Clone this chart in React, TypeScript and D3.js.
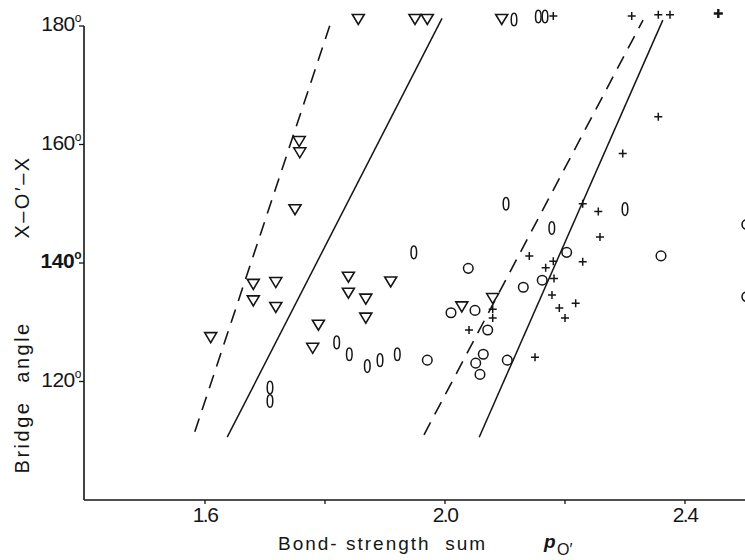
import React from 'react';
import * as d3 from 'd3';

// ---- data ----
const xTicks = [1.6, 1.8, 2.0, 2.2, 2.4];
const xTickLabels = ['1.6', '', '2.0', '', '2.4'];
const yTicks = [180, 160, 140, 120];
const yTickLabels = ['180', '160', '140', '120'];

const triangles: [number, number][] = [
  [1.8555, 181.1], [1.95, 181.1], [1.9705, 181.1], [2.0945, 181.1],
  [1.757, 160.5], [1.758, 158.6], [1.75, 149.0],
  [1.6805, 136.4], [1.718, 136.7], [1.6805, 133.6], [1.718, 132.5],
  [1.6095, 127.4], [1.839, 137.6], [1.839, 134.9], [1.868, 133.9],
  [1.868, 130.7], [1.9095, 136.8], [1.789, 129.5], [1.7795, 125.6],
  [2.028, 132.6], [2.0795, 134.0],
];

const ellipses: [number, number][] = [
  [2.115, 181.1], [2.1555, 181.6], [2.1667, 181.6],
  [2.1017, 150.0], [2.3, 149.1], [2.178, 145.9], [1.948, 141.8],
  [1.8195, 126.6], [1.8405, 124.6], [1.8705, 122.6], [1.8917, 123.6],
  [1.9205, 124.6], [1.7083, 119.0], [1.7083, 116.7],
];

const circles: [number, number][] = [
  [2.2028, 141.8], [2.36, 141.2], [2.0388, 139.1], [2.162, 137.1],
  [2.1305, 135.9], [2.01, 131.6], [2.05, 132.0], [2.0712, 128.7],
  [2.0638, 124.6], [2.0512, 123.1], [2.0583, 121.2], [1.9705, 123.6],
  [2.1038, 123.6], [2.503, 146.5], [2.503, 134.3],
];

const pluses: [number, number][] = [
  [2.1805, 181.7], [2.3112, 181.7], [2.3555, 181.9], [2.375, 181.9],
  [2.3555, 164.7], [2.2962, 158.5], [2.2295, 150.0], [2.2555, 148.7],
  [2.2583, 144.4], [2.1405, 141.2], [2.1678, 139.2], [2.1805, 140.3],
  [2.2295, 140.2], [2.1817, 137.4], [2.1783, 134.6], [2.2178, 133.2],
  [2.1905, 132.4], [2.2, 130.7], [2.0795, 132.2], [2.0795, 130.7],
  [2.04, 128.7], [2.15, 124.1],
];
const plusesBold: [number, number][] = [[2.4555, 182.1]];

const dashedLineA: [number, number][] = [[1.583, 111.5], [1.812, 181.3]];
const solidLineA: [number, number][] = [[1.637, 110.6], [1.995, 181.3]];
const dashedLineB: [number, number][] = [[1.965, 111.0], [2.33, 181.0]];
const solidLineB: [number, number][] = [[2.057, 110.6], [2.363, 181.0]];

const yTitleWords = ['Bridge', 'angle', 'X–O′–X'];

const FONT = "'Liberation Sans', Arial, sans-serif";
const INK = '#151515';

export default function App() {
  const W = 745, H = 560;
  const x = d3.scaleLinear().domain([1.4, 2.5]).range([85, 745]);
  const y = d3.scaleLinear().domain([100, 180]).range([500, 26]);
  const axisX = 84;
  const axisY = y(100);
  const line = d3.line<[number, number]>().x(d => x(d[0])).y(d => y(d[1]));

  const tri = (cx: number, cy: number) =>
    `M${cx - 6},${cy - 5}L${cx + 6},${cy - 5}L${cx},${cy + 5}Z`;

  // centers (in px along the vertical) of the rotated title words
  const yTitleCenters = [437, 352, 197];

  return (
    <svg width={W} height={H} style={{ position: 'absolute', left: 0, top: 0, background: '#fff' }}
      fontFamily={FONT}>
      <rect x={0} y={0} width={W} height={H} fill="#fff" />
      {/* axes */}
      <line x1={axisX} y1={y(180)} x2={axisX} y2={axisY} stroke={INK} strokeWidth={1.6} />
      <line x1={axisX} y1={axisY} x2={W} y2={axisY} stroke={INK} strokeWidth={1.6} />
      {yTicks.map((t, i) => (
        <g key={'yt' + i}>
          <line x1={axisX - 5} x2={axisX} y1={y(t)} y2={y(t)} stroke={INK} strokeWidth={1.3} />
          <text x={axisX - 3} y={y(t) + 5} textAnchor="end" fontSize={21} fill={INK}
            fontWeight={t === 140 ? 'bold' : 'normal'} letterSpacing={-0.5}>
            {yTickLabels[i]}
            <tspan fontSize={12} dy={-9}>o</tspan>
          </text>
        </g>
      ))}
      {xTicks.map((t, i) => (
        <g key={'xt' + i}>
          <line x1={x(t)} x2={x(t)} y1={axisY} y2={axisY + 4} stroke={INK} strokeWidth={1.3} />
          {xTickLabels[i] && (
            <text x={x(t)} y={522} textAnchor="middle" fontSize={21} letterSpacing={-1.5} fill={INK}>
              {xTickLabels[i]}
            </text>
          )}
        </g>
      ))}
      {/* axis titles */}
      <text x={278} y={550} fontSize={19} letterSpacing={2} fill={INK} style={{ whiteSpace: 'pre' }}>
        {'Bond- strength  sum'}
      </text>
      <text x={544} y={548} fontSize={19} fill={INK} fontStyle="italic" fontWeight="bold">p</text>
      <text x={557} y={555} fontSize={16} fill={INK}>O′</text>
      {yTitleWords.map((w, i) => (
        <text key={'yw' + i} transform={`translate(29,${yTitleCenters[i]}) rotate(-90)`} textAnchor="middle"
          fontSize={20} letterSpacing={2.5} fill={INK}>
          {w}
        </text>
      ))}

      {/* reference lines */}
      <path d={line(dashedLineA) || ''} stroke={INK} strokeWidth={1.6} fill="none" strokeDasharray="14 9" />
      <path d={line(solidLineA) || ''} stroke={INK} strokeWidth={1.5} fill="none" />
      <path d={line(dashedLineB) || ''} stroke={INK} strokeWidth={1.6} fill="none" strokeDasharray="14 9" />
      <path d={line(solidLineB) || ''} stroke={INK} strokeWidth={1.5} fill="none" />

      {/* markers */}
      {triangles.map((d, i) => (
        <path key={'tr' + i} d={tri(x(d[0]), y(d[1]))} fill="none" stroke={INK} strokeWidth={1.6} strokeLinejoin="miter" />
      ))}
      {ellipses.map((d, i) => (
        <ellipse key={'el' + i} cx={x(d[0])} cy={y(d[1])} rx={2.8} ry={6.3} fill="none" stroke={INK} strokeWidth={1.5} />
      ))}
      {circles.map((d, i) => (
        <circle key={'ci' + i} cx={x(d[0])} cy={y(d[1])} r={4.8} fill="none" stroke={INK} strokeWidth={1.5} />
      ))}
      {pluses.map((d, i) => {
        const cx = x(d[0]), cy = y(d[1]);
        return (
          <path key={'pl' + i} d={`M${cx - 4},${cy}H${cx + 4}M${cx},${cy - 4}V${cy + 4}`} stroke={INK} strokeWidth={1.5} />
        );
      })}
      {plusesBold.map((d, i) => {
        const cx = x(d[0]), cy = y(d[1]);
        return (
          <path key={'pb' + i} d={`M${cx - 4.5},${cy}H${cx + 4.5}M${cx},${cy - 4.5}V${cy + 4.5}`} stroke={INK} strokeWidth={2.4} />
        );
      })}
    </svg>
  );
}
